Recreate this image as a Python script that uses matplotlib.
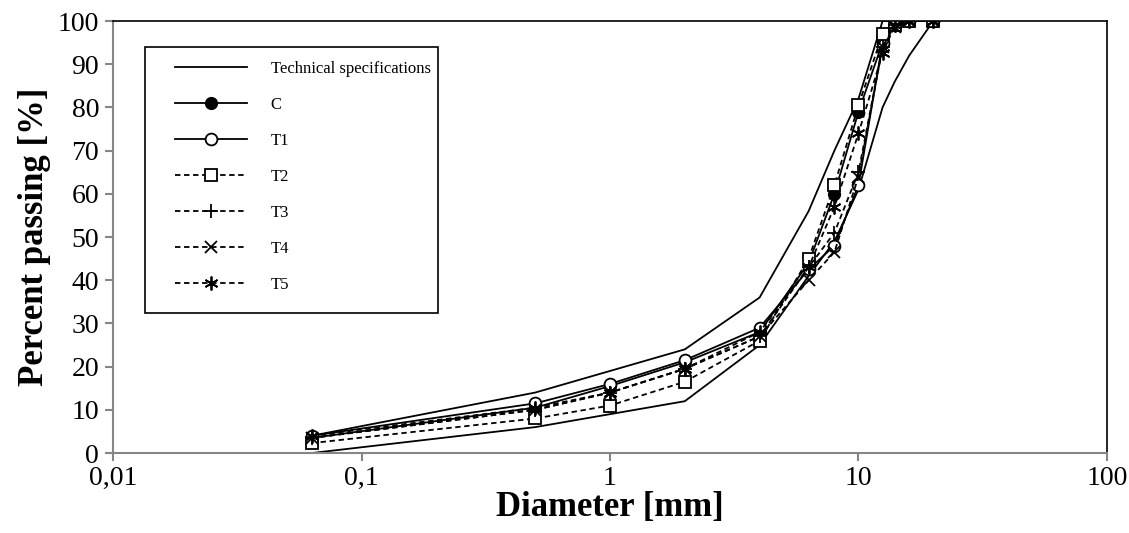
import matplotlib
matplotlib.use("Agg")
import matplotlib.pyplot as plt
from matplotlib.patches import Rectangle
from matplotlib.ticker import FixedLocator, FixedFormatter, NullLocator

plt.rcParams['font.family'] = ['Liberation Serif', 'DejaVu Serif']

sizes = [0.063, 0.5, 1, 2, 4, 6.3, 8, 10, 12.5, 14, 16, 20]
spec_lower = [0, 6, 9, 12, 25, 41, 49, 61, 80, 86, 92, 100]
spec_upper = [4, 14, 19, 24, 36, 56, 70, 82, 100, 100, 100, 100]
C  = [3.5, 10.5, 15.5, 21, 28, 44, 60, 79, 95, 99, 100, 100]
T1 = [4, 11.5, 16, 21.5, 29, 42.5, 48, 62, 95, 99, 100, 100]
T2 = [2.3, 8, 11, 16.5, 26, 45, 62, 80.5, 97, 99, 100, 100]
T3 = [3.5, 10, 14, 19.5, 27, 43, 51, 65, 94, 99, 100, 100]
T4 = [3.5, 10, 14, 19.5, 27, 40, 46.5, 64, 94, 98.5, 100, 100]
T5 = [4, 10.5, 14, 19.5, 28, 43, 57, 74, 92.5, 99, 100, 100]

xticks = [0.01, 0.1, 1, 10, 100]
xticklabels = ['0,01', '0,1', '1', '10', '100']
yticks = list(range(0, 101, 10))

fig = plt.figure(figsize=(11.29, 5.33), dpi=100)
ax = fig.add_axes([0.1001, 0.150, 0.8804, 0.8106])

lw = 1.3
ax.plot(sizes, spec_lower, color='black', lw=lw, label='Technical specifications')
ax.plot(sizes, spec_upper, color='black', lw=lw)
dash = (3, 2)
ax.plot(sizes, C, color='black', lw=lw, marker='o', ms=8.5, mfc='black', mec='black', label='C')
ax.plot(sizes, T1, color='black', lw=lw, marker='o', ms=8.5, mfc='white', mec='black', mew=1.3, label='T1')
ax.plot(sizes, T2, color='black', lw=lw, ls=(0, dash), marker='s', ms=8, mfc='white', mec='black', mew=1.3, label='T2')
ax.plot(sizes, T3, color='black', lw=lw, ls=(0, dash), marker='+', ms=10, mec='black', mew=1.3, label='T3')
ax.plot(sizes, T4, color='black', lw=lw, ls=(0, dash), marker='x', ms=8, mec='black', mew=1.3, label='T4')
ax.plot(sizes, T5, color='black', lw=lw, ls=(0, dash), marker=(6, 2, 0), ms=10, mec='black', mew=1.3, label='T5')

ax.set_xscale('log')
ax.set_xlim(0.01, 100)
ax.set_ylim(0, 100)
ax.xaxis.set_major_locator(FixedLocator(xticks))
ax.xaxis.set_major_formatter(FixedFormatter(xticklabels))
ax.xaxis.set_minor_locator(NullLocator())
ax.set_yticks(yticks)

grey = '#868686'
for s in ['left', 'bottom']:
    ax.spines[s].set_color(grey)
    ax.spines[s].set_linewidth(1.5)
for s in ['top', 'right']:
    ax.spines[s].set_color('black')
    ax.spines[s].set_linewidth(1.2)
ax.tick_params(axis='both', direction='out', length=6, width=1.5, color=grey,
               labelsize=20, pad=4)
ax.tick_params(axis='x', pad=3)

ax.set_xlabel('Diameter [mm]', fontsize=25, fontweight='bold', labelpad=0)
ax.set_ylabel('Percent passing [%]', fontsize=25, fontweight='bold', labelpad=5)

# legend box
box = Rectangle((0.0322, 0.324), 0.2948, 0.6158, transform=ax.transAxes,
                facecolor='white', edgecolor='black', lw=1.2, zorder=4)
ax.add_patch(box)
leg = ax.legend(loc='upper left', bbox_to_anchor=(0.0624, 0.908),
                fontsize=12, frameon=False, labelspacing=1.2,
                handlelength=4.3, handletextpad=1.45, borderpad=0,
                borderaxespad=0)
leg.set_zorder(5)

fig.savefig('out.png', dpi=100)
